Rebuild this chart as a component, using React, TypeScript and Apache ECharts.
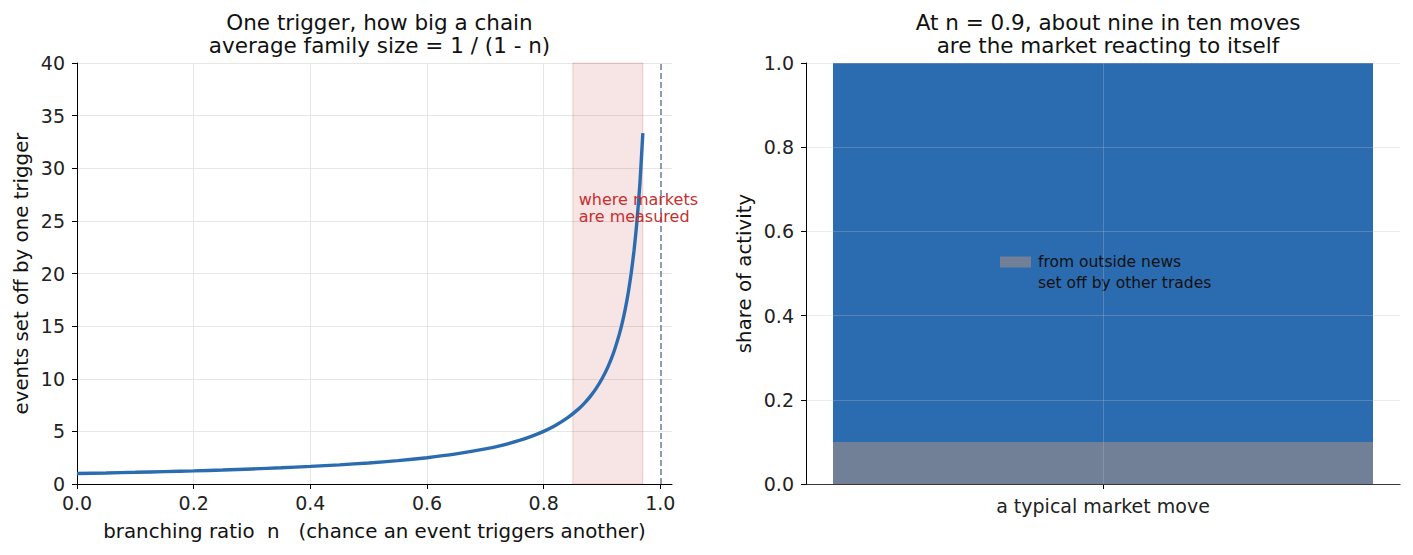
import React, { useEffect, useRef } from "react";
import * as echarts from "echarts";

// Branching ratio n and the mean cascade size 1 / (1 - n) at each n
const branchingRatio = [
  0, 0.05, 0.1, 0.15, 0.2, 0.25, 0.3, 0.35, 0.4, 0.45, 0.5, 0.55, 0.6, 0.65,
  0.7, 0.73, 0.76, 0.78, 0.8, 0.82, 0.84, 0.86, 0.87, 0.88, 0.89, 0.9, 0.91,
  0.92, 0.93, 0.935, 0.94, 0.945, 0.95, 0.955, 0.96, 0.965, 0.97,
];
const familySize = [
  1.0, 1.05, 1.11, 1.18, 1.25, 1.33, 1.43, 1.54, 1.67, 1.82, 2.0, 2.22, 2.5,
  2.86, 3.33, 3.7, 4.17, 4.55, 5.0, 5.56, 6.25, 7.14, 7.69, 8.33, 9.09, 10.0,
  11.11, 12.5, 14.29, 15.38, 16.67, 18.18, 20.0, 22.22, 25.0, 28.57, 33.33,
];
const nTicks = [0, 0.2, 0.4, 0.6, 0.8, 1.0];

// Band where measured markets sit, and the critical point
const measuredBand = [0.85, 0.97];
const criticalN = 1.0;

// Share of activity in a typical move
const moveCategories = ["a typical market move"];
const outsideNewsShare = [0.1];
const selfExcitedShare = [0.9];

const FONT = "DejaVu Sans, sans-serif";
const BLUE = "#2b6cb0";
const SLATE = "#718096";
const DASH = "#6a7ba2";
const RED = "#c53030";

export default function App() {
  const ref = useRef<HTMLDivElement>(null);

  useEffect(() => {
    document.body.style.margin = "0";
    const chart = echarts.init(ref.current!, null, { renderer: "svg" });

    const axisLabel = { color: "#222", fontSize: 19, fontFamily: FONT };
    const axisLine = { show: true, lineStyle: { color: "#000", width: 1 } };
    const axisTick = { show: true, length: 5, lineStyle: { color: "#000" } };
    const gridLine = { show: true, lineStyle: { color: "#e6e6e6", width: 1 } };
    const overGrid = { show: true, lineStyle: { color: "rgba(190,190,190,0.3)", width: 1 } };
    const nameStyle = { color: "#111", fontSize: 19.8, fontFamily: FONT };
    const titleStyle = {
      fontSize: 21.5,
      fontWeight: "normal",
      color: "#111",
      lineHeight: 23,
      fontFamily: FONT,
    };

    chart.setOption({
      animation: false,
      textStyle: { fontFamily: FONT },
      title: [
        {
          text: "One trigger, how big a chain\naverage family size = 1 / (1 - n)",
          left: 374.5,
          textAlign: "center",
          top: 6,
          textStyle: titleStyle,
        },
        {
          text: "At n = 0.9, about nine in ten moves\nare the market reacting to itself",
          left: 1103,
          textAlign: "center",
          top: 6,
          textStyle: titleStyle,
        },
      ],
      legend: {
        data: ["from outside news", "set off by other trades"],
        orient: "vertical",
        left: 995,
        top: 249,
        icon: "rect",
        itemWidth: 31,
        itemHeight: 11,
        itemGap: 5,
        textStyle: { color: "#111", fontSize: 15.5, fontFamily: FONT, padding: [0, 0, 0, 2] },
        selectedMode: false,
      },
      grid: [
        { left: 77, top: 63, width: 595, height: 421 },
        { left: 806, top: 63, width: 594, height: 421 },
      ],
      xAxis: [
        {
          gridIndex: 0,
          type: "value",
          min: 0,
          max: 1.02,
          interval: 0.2,
          axisLine,
          axisTick: { ...axisTick, customValues: nTicks },
          splitLine: { ...gridLine, showMaxLine: false },
          axisLabel: {
            ...axisLabel,
            margin: 9,
            customValues: nTicks,
            formatter: (v: number) => v.toFixed(1),
          },
          name: "branching ratio  n   (chance an event triggers another)",
          nameLocation: "middle",
          nameGap: 37,
          nameTextStyle: nameStyle,
        },
        {
          gridIndex: 1,
          type: "category",
          data: moveCategories,
          axisLine,
          axisTick: { ...axisTick, alignWithLabel: true },
          axisLabel: { ...axisLabel, margin: 12 },
          splitLine: { show: false },
        },
      ],
      yAxis: [
        {
          gridIndex: 0,
          type: "value",
          min: 0,
          max: 40,
          interval: 5,
          axisLine,
          axisTick,
          splitLine: gridLine,
          axisLabel: { ...axisLabel, margin: 12 },
          name: "events set off by one trigger",
          nameLocation: "middle",
          nameGap: 46,
          nameTextStyle: nameStyle,
        },
        {
          gridIndex: 1,
          type: "value",
          min: 0,
          max: 1,
          interval: 0.2,
          z: 5,
          axisLine,
          axisTick,
          splitLine: overGrid,
          axisLabel: { ...axisLabel, margin: 12, formatter: (v: number) => v.toFixed(1) },
          name: "share of activity",
          nameLocation: "middle",
          nameGap: 52,
          nameTextStyle: nameStyle,
        },
      ],
      series: [
        {
          type: "line",
          xAxisIndex: 0,
          yAxisIndex: 0,
          data: branchingRatio.map((n, i) => [n, familySize[i]]),
          showSymbol: false,
          smooth: 0.2,
          lineStyle: { color: BLUE, width: 3.4 },
          z: 4,
          markArea: {
            silent: true,
            itemStyle: {
              color: "rgba(197,48,48,0.13)",
              borderColor: "rgba(197,48,48,0.2)",
              borderWidth: 1,
            },
            data: [[{ xAxis: measuredBand[0] }, { xAxis: measuredBand[1] }]],
          },
          markLine: {
            silent: true,
            symbol: "none",
            label: { show: false },
            lineStyle: { color: DASH, type: [6, 3], width: 1.5 },
            data: [{ xAxis: criticalN }],
          },
          markPoint: {
            silent: true,
            symbol: "circle",
            symbolSize: 0,
            data: [{ coord: [0.86, 26.2] }],
            label: {
              show: true,
              position: "right",
              distance: 0,
              formatter: "where markets\nare measured",
              color: RED,
              fontSize: 16,
              lineHeight: 17,
              fontFamily: FONT,
            },
          },
        },
        {
          name: "from outside news",
          type: "bar",
          xAxisIndex: 1,
          yAxisIndex: 1,
          stack: "share",
          data: outsideNewsShare,
          barWidth: 540,
          itemStyle: { color: SLATE },
          z: 2,
        },
        {
          name: "set off by other trades",
          type: "bar",
          xAxisIndex: 1,
          yAxisIndex: 1,
          stack: "share",
          data: selfExcitedShare,
          barWidth: 540,
          itemStyle: { color: BLUE },
          z: 2,
          markLine: {
            silent: true,
            symbol: "none",
            label: { show: false },
            lineStyle: { color: "rgba(190,190,190,0.3)", type: "solid", width: 1 },
            data: [{ xAxis: moveCategories[0] }],
          },
        },
      ],
    });

    return () => chart.dispose();
  }, []);

  return <div ref={ref} style={{ width: 1413, height: 555 }} />;
}
